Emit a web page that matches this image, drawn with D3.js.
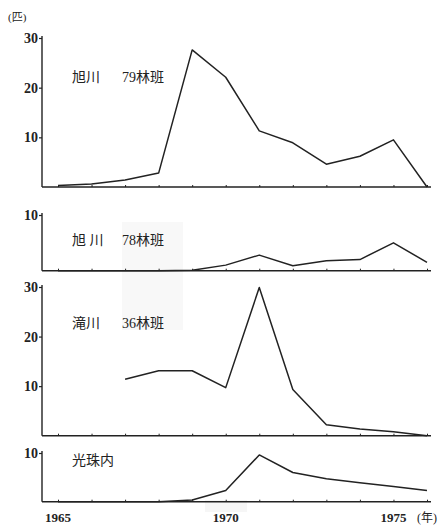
<!DOCTYPE html>
<html>
<head>
<meta charset="utf-8">
<script src="https://cdn.jsdelivr.net/npm/d3@7"></script>
<style>
  body { margin: 0; background: #fff; }
  text { font-family: "Liberation Serif", "DejaVu Serif", "Noto Sans CJK JP", serif; fill: #222; }
</style>
</head>
<body>
<div id="chart-area"></div>
<script>
// years on the x axis
var years = [1965, 1966, 1967, 1968, 1969, 1970, 1971, 1972, 1973, 1974, 1975, 1976];

// numbers per year (匹) for each site
var asahikawa79 = [0.3, 0.6, 1.4, 2.8, 27.6, 22.1, 11.3, 8.9, 4.6, 6.2, 9.5, 0];
var asahikawa78 = [0, 0, 0, 0, 0.1, 1.0, 2.8, 0.9, 1.8, 2.0, 5.0, 1.5];
var takikawa36  = [null, null, 11.4, 13.1, 13.1, 9.7, 29.9, 9.3, 2.2, 1.35, 0.8, 0];
var koshunai    = [0, 0, 0, 0, 0.35, 2.3, 9.6, 6.0, 4.7, 3.9, 3.1, 2.3];

// site name + block number
var siteNames = ["旭川", "旭 川", "滝川", "光珠内"];
var blockNames = ["79林班", "78林班", "36林班", ""];
var yMaxes = [30, 10, 30, 10];
var yTicks = [[10, 20, 30], [10], [10, 20, 30], [10]];
var xLabels = ["1965", "1970", "1975"];

var svg = d3.select("#chart-area")
    .append("svg")
    .attr("width", 447)
    .attr("height", 526);

var x = d3.scaleLinear()
    .domain([1965, 1976])
    .range([58, 427]);

// each panel: baseline y, top y
var panels = [
    {data: asahikawa79, base: 187, top: 38, labelY: 82},
    {data: asahikawa78, base: 270.7, top: 215, labelY: 245},
    {data: takikawa36, base: 435.7, top: 287, labelY: 328},
    {data: koshunai, base: 501.7, top: 453, labelY: 465}
];

// faint scan shading behind the middle labels
svg.append("rect")
    .attr("x", 122).attr("y", 222)
    .attr("width", 61).attr("height", 108)
    .attr("fill", "#f8f8f8");
svg.append("rect")
    .attr("x", 205).attr("y", 500)
    .attr("width", 42).attr("height", 12)
    .attr("fill", "#f6f6f6");

panels.forEach(function(p, i) {
    var y = d3.scaleLinear()
        .domain([0, yMaxes[i]])
        .range([p.base, p.top]);

    var g = svg.append("g");

    // y axis
    var yAxis = d3.axisLeft(y)
        .tickValues(yTicks[i])
        .tickSize(3)
        .tickPadding(1)
        .tickFormat(d3.format("d"));
    var ya = g.append("g")
        .attr("transform", "translate(42,0)")
        .call(yAxis);
    ya.select(".domain").remove();
    ya.selectAll(".tick line").attr("stroke", "#222").attr("stroke-width", 1.2);
    ya.selectAll("text")
        .style("font-size", "14px")
        .style("font-weight", "bold");
    g.append("line")
        .attr("x1", 42).attr("x2", 42)
        .attr("y1", y(yMaxes[i]) - 2).attr("y2", p.base)
        .attr("stroke", "#222").attr("stroke-width", 1.4);

    // x axis with small upward ticks
    var xAxis = d3.axisTop(x)
        .tickValues(years)
        .tickSize(2)
        .tickFormat("");
    var xa = g.append("g")
        .attr("transform", "translate(0," + p.base + ")")
        .call(xAxis);
    xa.select(".domain").remove();
    xa.selectAll(".tick line").attr("stroke", "#222");
    g.append("line")
        .attr("x1", 42).attr("x2", 431)
        .attr("y1", p.base).attr("y2", p.base)
        .attr("stroke", "#222").attr("stroke-width", 1.6);

    var line = d3.line()
        .defined(function(d) { return d != null; })
        .x(function(d, j) { return x(years[j]); })
        .y(function(d) { return y(d); });

    g.append("path")
        .datum(p.data)
        .attr("fill", "none")
        .attr("stroke", "#222")
        .attr("stroke-width", 1.5)
        .attr("stroke-linejoin", "round")
        .attr("d", line);

    g.append("text")
        .attr("x", 72)
        .attr("y", p.labelY)
        .style("font-size", "14px")
        .style("white-space", "pre")
        .text(siteNames[i]);
    g.append("text")
        .attr("x", 122)
        .attr("y", p.labelY)
        .style("font-size", "14px")
        .text(blockNames[i]);
});

// unit label
svg.append("text")
    .attr("x", 8).attr("y", 21)
    .style("font-size", "11px")
    .text("(匹)");

// year labels under the last panel
svg.selectAll(".year")
    .data(xLabels)
    .enter()
    .append("text")
    .attr("class", "year")
    .attr("x", function(d) { return x(+d); })
    .attr("y", 522)
    .attr("text-anchor", "middle")
    .style("font-size", "13px")
    .style("font-weight", "bold")
    .text(function(d) { return d; });

svg.append("text")
    .attr("x", 417).attr("y", 522)
    .style("font-size", "12px")
    .text("(年)");
</script>
</body>
</html>
